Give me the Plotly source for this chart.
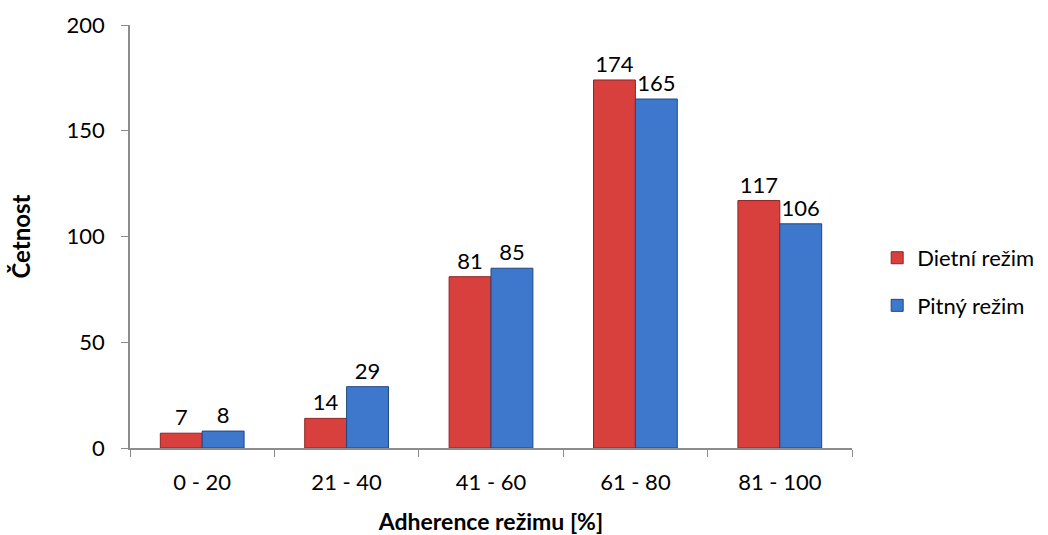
import plotly.graph_objects as go

categories = ["0 - 20", "21 - 40", "41 - 60", "61 - 80", "81 - 100"]
dietni = [7, 14, 81, 174, 117]
pitny = [8, 29, 85, 165, 106]
y_ticks = [0, 50, 100, 150, 200]

font_family = "Lato, 'Open Sans', sans-serif"

fig = go.Figure()
fig.add_trace(go.Bar(
    x=categories, y=dietni, name="Dietní režim",
    marker=dict(color="#D8403D", line=dict(color="#8E2422", width=1)),
    text=[str(v) for v in dietni], textposition="outside",
    textfont=dict(size=22, color="#000000"), cliponaxis=False,
    legendgroup="a",
))
fig.add_trace(go.Bar(
    x=categories, y=pitny, name="Pitný režim",
    marker=dict(color="#3E78CC", line=dict(color="#22467E", width=1)),
    text=[str(v) for v in pitny], textposition="outside",
    textfont=dict(size=22, color="#000000"), cliponaxis=False,
    legendgroup="b",
))

fig.update_layout(
    width=1048, height=535,
    margin=dict(l=130, r=196, t=25, b=87),
    paper_bgcolor="white", plot_bgcolor="white",
    font=dict(family=font_family, size=22, color="#000000"),
    barmode="group", bargap=0.42, bargroupgap=0,
    legend=dict(xref="container", yref="container",
                x=0.837, y=0.473, yanchor="middle", xanchor="left",
                font=dict(size=22), tracegroupgap=16,
                itemwidth=30),
    xaxis=dict(
        title=dict(text="<b>Adherence režimu [%]</b>", font=dict(size=23), standoff=20),
        automargin=False,
        showline=True, linecolor="#8C8C8C", linewidth=1.5,
        tickson="boundaries", ticks="outside", ticklen=7, tickcolor="#8C8C8C",
        ticklabelstandoff=14,
        showgrid=False, tickfont=dict(size=22),
    ),
    yaxis=dict(
        title=dict(text="<b>Četnost</b>", font=dict(size=24), standoff=29),
        automargin=False,
        range=[0, 200], tickvals=y_ticks,
        showline=True, linecolor="#8C8C8C", linewidth=1.5,
        ticks="outside", ticklen=7, tickcolor="#8C8C8C",
        ticklabelstandoff=12,
        showgrid=False, zeroline=False, tickfont=dict(size=22),
    ),
)

fig.write_html("out.html")
